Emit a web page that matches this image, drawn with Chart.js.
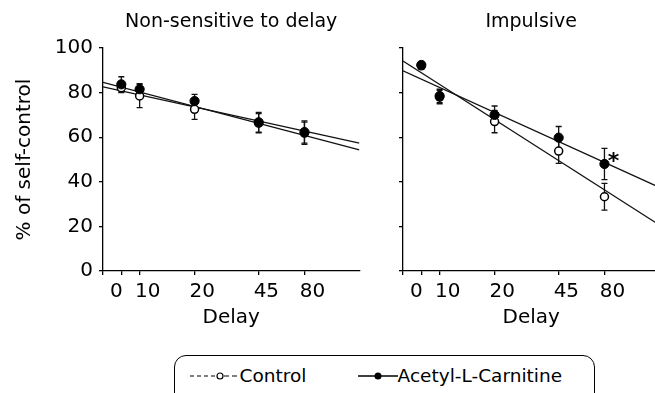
<!DOCTYPE html>
<html>
<head>
<meta charset="utf-8">
<script src="https://cdn.jsdelivr.net/npm/chart.js@4.4.0/dist/chart.umd.min.js"></script>
<style>
  html, body { margin: 0; padding: 0; background: #fff; }
  body { width: 655px; height: 393px; overflow: hidden; position: relative; font-family: "DejaVu Sans", sans-serif; }
  canvas { position: absolute; top: 0; }
  #left { left: 0; }
  #right { left: 370px; }
  #legend { position: absolute; left: 174px; top: 355px; width: 419px; height: 60px;
            border: 1.4px solid #000; border-radius: 12px; }
  .item { position: absolute; top: 6.6px; font-size: 18.5px; line-height: 26px; white-space: nowrap;
          display: flex; align-items: center; color: #000; }
  .item svg { display: block; }
</style>
</head>
<body>
<canvas id="left" width="365" height="340"></canvas>
<canvas id="right" width="295" height="340"></canvas>
<div id="legend">
  <div class="item" style="left:14.6px">
    <svg width="50" height="12"><line x1="0" y1="6" x2="26" y2="6" stroke="#000" stroke-width="1.2" stroke-dasharray="4,3"/><circle cx="30" cy="6" r="3" fill="#fff" stroke="#000" stroke-width="1.2"/><line x1="34" y1="6" x2="47" y2="6" stroke="#000" stroke-width="1.2" stroke-dasharray="5,3"/></svg>Control
  </div>
  <div class="item" style="left:182.6px">
    <svg width="40" height="12"><line x1="0" y1="6" x2="40" y2="6" stroke="#000" stroke-width="1.4"/><circle cx="20" cy="6" r="3.5" fill="#000"/></svg>Acetyl-L-Carnitine
  </div>
</div>
<script>
// delays on the x axis and where they sit on the plot
const delays = ['0', '10', '20', '45', '80'];
const delayPos = [1, 2, 5, 8.5, 11];
// the printed labels sit a little off their tick marks in the original
const delayLabelPos = [0.73, 2.44, 5.42, 8.92, 11.44];
const yTickLabels = [0, 20, 40, 60, 80, 100];
const fitRange = [0, 14];

// Non-sensitive to delay
const nsControl = [82.2, 78.5, 72.5, 66.3, 61.8];
const nsControlErr = [2.2, 5.2, 4.5, 4.3, 5.0];
const nsAlc = [83.7, 81.5, 76.2, 66.7, 62.3];
const nsAlcErr = [3.4, 2.5, 3.0, 4.4, 5.0];
const nsFitControl = [84.6, 54.3]; // fitted line at both ends of fitRange
const nsFitAlc = [82.6, 57.3];

// Impulsive
const impControl = [92.0, 78.0, 67.0, 53.8, 33.3];
const impControlErr = [1.5, 3.0, 5.0, 5.5, 6.0];
const impAlc = [92.4, 78.5, 70.0, 59.8, 48.0];
const impAlcErr = [1.5, 3.0, 4.0, 5.0, 7.0];
const impFitControl = [94.2, 20.6];
const impFitAlc = [89.8, 37.5];
const impSignificant = [false, false, false, false, true];

const FONT = 'DejaVu Sans';

function pointsFrom(values) {
    return values.map((v, i) => ({ x: delayPos[i], y: v }));
}

function fitLine(ends) {
    return [{ x: fitRange[0], y: ends[0] }, { x: fitRange[1], y: ends[1] }];
}

// vertical error bars, drawn under the markers
const errorBars = {
    id: 'errorBars',
    beforeDatasetsDraw(chart) {
        const ctx = chart.ctx;
        const xs = chart.scales.x, ys = chart.scales.y;
        ctx.save();
        ctx.strokeStyle = '#111';
        ctx.lineWidth = 1.3;
        chart.data.datasets.forEach(ds => {
            if (!ds.errors) return;
            ds.data.forEach((p, i) => {
                const px = xs.getPixelForValue(p.x);
                const top = ys.getPixelForValue(p.y + ds.errors[i]);
                const bot = ys.getPixelForValue(p.y - ds.errors[i]);
                ctx.beginPath();
                ctx.moveTo(px, top); ctx.lineTo(px, bot);
                ctx.moveTo(px - 3, top); ctx.lineTo(px + 3, top);
                ctx.moveTo(px - 3, bot); ctx.lineTo(px + 3, bot);
                ctx.stroke();
            });
        });
        ctx.restore();
    }
};

// asterisk next to significant points
const sigMarks = {
    id: 'sigMarks',
    afterDatasetsDraw(chart) {
        const ctx = chart.ctx;
        chart.data.datasets.forEach((ds, di) => {
            if (!ds.marks) return;
            const meta = chart.getDatasetMeta(di);
            ds.marks.forEach((m, i) => {
                if (!m) return;
                const el = meta.data[i];
                ctx.save();
                ctx.fillStyle = '#000';
                ctx.font = 'bold 22px ' + FONT;
                ctx.textAlign = 'center';
                ctx.textBaseline = 'middle';
                ctx.fillText('*', el.x + 9, el.y - 2);
                ctx.restore();
            });
        });
    }
};

function buildChart(id, cfg) {
    const axisGrid = { drawOnChartArea: false, drawTicks: true, tickLength: 4, color: '#000', lineWidth: 1.3 };
    const axisBorder = { color: '#000', width: 1.3 };
    const axisFont = { family: FONT, size: 20 };
    return new Chart(document.getElementById(id), {
        type: 'scatter',
        data: {
            datasets: [
                { type: 'line', data: fitLine(cfg.fitAlc), borderColor: '#111', borderWidth: 1.3, pointRadius: 0, fill: false, order: 4 },
                { type: 'line', data: fitLine(cfg.fitControl), borderColor: '#111', borderWidth: 1.3, pointRadius: 0, fill: false, order: 3 },
                {
                    label: 'Control', data: pointsFrom(cfg.control), errors: cfg.controlErr,
                    pointRadius: 4, pointBackgroundColor: '#fff', pointBorderColor: '#000', pointBorderWidth: 1.5, order: 2
                },
                {
                    label: 'Acetyl-L-Carnitine', data: pointsFrom(cfg.alc), errors: cfg.alcErr, marks: cfg.marks,
                    pointRadius: 4.6, pointBackgroundColor: '#000', pointBorderColor: '#000', pointBorderWidth: 1, order: 1
                }
            ]
        },
        options: {
            responsive: false,
            animation: false,
            events: [],
            layout: { padding: { left: 0, right: 5, top: 0, bottom: 0 } },
            plugins: {
                legend: { display: false },
                tooltip: { enabled: false },
                title: {
                    display: true, text: cfg.title, fullSize: false, color: '#000',
                    font: { family: FONT, size: 19, weight: 'normal' },
                    padding: { top: 11, bottom: 14.2 }
                }
            },
            scales: {
                // axis line + tick marks
                x: {
                    type: 'linear', min: fitRange[0], max: fitRange[1], weight: 0,
                    afterFit: s => { s.height = 4; },
                    afterBuildTicks: s => { s.ticks = [0].concat(delayPos).map(v => ({ value: v })); },
                    ticks: { display: false },
                    grid: axisGrid,
                    border: axisBorder
                },
                // delay labels + axis title
                xl: {
                    type: 'linear', position: 'bottom', min: fitRange[0], max: fitRange[1], weight: 1,
                    afterFit: s => { s.height = 65; },
                    afterBuildTicks: s => { s.ticks = delayLabelPos.map(v => ({ value: v })); },
                    ticks: {
                        autoSkip: false, maxRotation: 0, padding: 5, color: '#000', font: axisFont,
                        callback: (v, i) => delays[i]
                    },
                    grid: { display: false, drawTicks: false },
                    border: { display: false },
                    title: {
                        display: true, text: 'Delay', color: '#000',
                        font: axisFont, padding: { top: 0, bottom: 10 }
                    }
                },
                y: {
                    min: 0, max: 100,
                    afterFit: s => { s.width = cfg.yWidth; },
                    ticks: {
                        stepSize: 10, padding: 6, color: '#000', font: axisFont,
                        callback: v => (cfg.yLabels && yTickLabels.includes(v)) ? String(v) : ''
                    },
                    grid: axisGrid,
                    border: axisBorder,
                    title: {
                        display: cfg.yLabels, text: '% of self-control', color: '#000',
                        font: axisFont, padding: { top: 13, bottom: 0 }
                    }
                }
            }
        },
        plugins: [errorBars, sigMarks]
    });
}

buildChart('left', {
    title: 'Non-sensitive to delay', yWidth: 103, yLabels: true,
    control: nsControl, controlErr: nsControlErr, alc: nsAlc, alcErr: nsAlcErr,
    fitControl: nsFitControl, fitAlc: nsFitAlc, marks: null
});

buildChart('right', {
    title: 'Impulsive', yWidth: 33, yLabels: false,
    control: impControl, controlErr: impControlErr, alc: impAlc, alcErr: impAlcErr,
    fitControl: impFitControl, fitAlc: impFitAlc, marks: impSignificant
});
</script>
</body>
</html>
